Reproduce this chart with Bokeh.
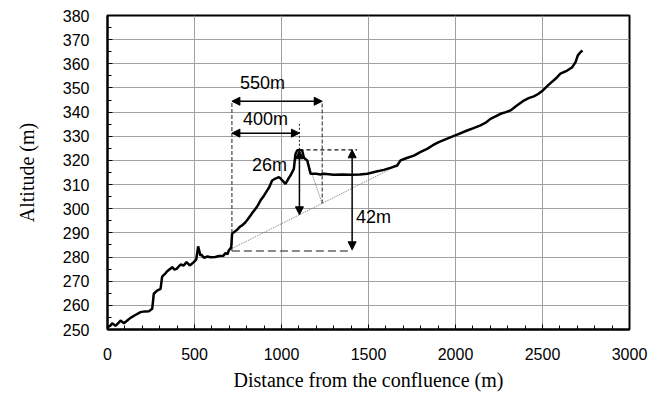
from bokeh.plotting import figure
from bokeh.models import Arrow, NormalHead, SingleIntervalTicker, Range1d, ColumnDataSource
from bokeh.core.properties import value
from bokeh.embed import file_html
from bokeh.resources import INLINE

# Longitudinal river profile (distance from confluence in m, altitude in m)
distance = [0, 15, 27, 46, 60, 75, 94, 110, 132, 160, 190, 215, 238, 257, 262, 266, 285, 305,
            314, 330, 343, 372, 385, 397, 420, 438, 454, 473, 496, 510, 521, 534, 540, 554,
            575, 592, 620, 640, 665, 678, 690, 697, 711, 716, 730, 745, 760, 774, 793, 805,
            822, 835, 851, 865, 879, 900, 918, 930, 946, 965, 985, 995, 1004, 1023, 1040,
            1052, 1071, 1080, 1090, 1100, 1119, 1128, 1138, 1148, 1167, 1200, 1224, 1243,
            1300, 1350, 1397, 1450, 1493, 1540, 1588, 1630, 1665, 1684, 1720, 1761, 1800,
            1837, 1870, 1904, 1952, 2006, 2067, 2100, 2144, 2175, 2201, 2230, 2259, 2290,
            2316, 2340, 2355, 2393, 2420, 2450, 2475, 2498, 2536, 2575, 2603, 2642, 2671,
            2690, 2703, 2718, 2730]
altitude = [251.0, 251.5, 252.6, 251.5, 252.5, 253.7, 252.6, 253.5, 254.8, 256.0, 257.2, 257.5,
            257.6, 258.6, 262.0, 264.8, 266.1, 266.8, 271.9, 273.0, 274.1, 275.8, 274.8, 275.1,
            276.9, 276.5, 277.9, 276.5, 277.9, 279.0, 284.4, 280.6, 281.0, 279.7, 280.2, 279.9,
            280.0, 280.4, 280.5, 281.6, 281.2, 282.7, 284.0, 289.6, 290.5, 291.3, 292.5, 293.1,
            294.4, 295.5, 297.2, 298.5, 300.0, 301.5, 303.4, 305.5, 307.6, 309.0, 311.7, 312.5,
            313.1, 312.5, 311.7, 310.3, 312.5, 313.8, 316.5, 322.5, 324.1, 324.3, 324.1, 321.3,
            320.5, 320.0, 314.5, 314.5, 314.2, 314.5, 314.1, 314.2, 314.1, 314.2, 314.5, 315.3,
            316.1, 317.0, 317.9, 320.0, 321.0, 322.0, 323.5, 324.8, 326.3, 327.6, 329.0, 330.6,
            332.4, 333.3, 334.5, 335.7, 337.2, 338.2, 339.3, 340.0, 340.7, 342.0, 342.8, 344.8,
            345.8, 346.5, 347.5, 348.7, 351.4, 353.8, 355.9, 357.2, 358.6, 360.7, 363.5, 364.8,
            365.5]

# Annotation values
labels = ["550m", "400m", "26m", "42m"]
knick_start = 715      # start of the steep reach
knick_top = 1103       # top of the knickpoint
reach_end = 1234       # end of the 550 m span
drop_x = 1406          # position of the 42 m arrow
base_alt = 282.5
peak_alt = 324.4
base_line_end = (1670, 318.0)

SERIF = "Liberation Serif"
SANS = "Liberation Sans"

p = figure(width=658, height=398, output_backend="svg", toolbar_location=None,
           x_range=Range1d(0, 3000), y_range=Range1d(250, 380),
           min_border_left=107, min_border_right=29, min_border_top=15, min_border_bottom=69)
p.background_fill_color = "white"
p.border_fill_color = "white"
p.outline_line_color = "black"
p.outline_line_width = 2

p.xaxis.ticker = SingleIntervalTicker(interval=500, num_minor_ticks=5)
p.yaxis.ticker = SingleIntervalTicker(interval=10, num_minor_ticks=2)
for ax in (p.xaxis, p.yaxis):
    ax.axis_line_width = 2
    ax.axis_line_color = "black"
    ax.major_tick_in = 5
    ax.major_tick_out = 0
    ax.minor_tick_in = 4
    ax.minor_tick_out = 0
    ax.major_tick_line_color = "black"
    ax.minor_tick_line_color = "black"
    ax.major_label_text_font = SANS
    ax.major_label_text_font_size = "16px"
    ax.major_label_text_color = "black"
    ax.axis_label_text_font = SERIF
    ax.axis_label_text_font_size = "20px"
    ax.axis_label_text_font_style = "normal"
    ax.axis_label_text_color = "black"
p.xaxis.major_label_standoff = 18
p.yaxis.major_label_standoff = 18
p.xaxis.axis_label = "Distance from the confluence (m)"
p.yaxis.axis_label = "Altitude (m)"
p.xaxis.axis_label_standoff = 6
p.yaxis.axis_label_standoff = 22

p.xgrid.grid_line_color = "#a0a0a0"
p.ygrid.grid_line_color = "#a0a0a0"
p.xgrid.grid_line_width = 1
p.ygrid.grid_line_width = 1

# guide lines
p.line([knick_start, knick_start], [base_alt, 344.5], line_color="#444444", line_width=1.2, line_dash="4 2")
p.line([reach_end, reach_end], [302.2, 344.5], line_color="#444444", line_width=1.2, line_dash="4 2")
p.line([knick_top, knick_top], [peak_alt, 335.5], line_color="#222222", line_width=1, line_dash="2 2")
p.line([knick_top, 1435], [peak_alt, peak_alt], line_color="#111111", line_width=1.2, line_dash="4 3")
p.line([knick_start, drop_x], [base_alt, base_alt], line_color="#666666", line_width=1.5, line_dash="8 4")
p.line([knick_start, base_line_end[0]], [283.5, base_line_end[1]], line_color="#777777", line_width=1, line_dash="1 1")
p.line([1148, reach_end], [320.0, 302.2], line_color="#777777", line_width=1, line_dash="1 1")

# profile
p.line(distance, altitude, line_color="black", line_width=2.5)

def dbl_arrow(x0, y0, x1, y1):
    p.add_layout(Arrow(start=NormalHead(size=8, fill_color="black", line_color="black"),
                       end=NormalHead(size=8, fill_color="black", line_color="black"),
                       x_start=x0, y_start=y0, x_end=x1, y_end=y1,
                       line_color="black", line_width=1.5))

dbl_arrow(knick_start, 344.5, reach_end, 344.5)
dbl_arrow(knick_start, 331.3, knick_top, 331.3)
dbl_arrow(knick_top, peak_alt - 0.4, knick_top, 297.5)
dbl_arrow(drop_x, peak_alt, drop_x, 283.0)

src = ColumnDataSource(dict(x=[891, 908, 931, 1529], y=[351.9, 337.0, 318.1, 296.6], t=labels))
p.text(x="x", y="y", text="t", source=src, text_font=value(SANS), text_font_size="18px",
       text_align="center", text_baseline="middle", text_color="black")

open("out.html", "w").write(file_html(p, INLINE))
